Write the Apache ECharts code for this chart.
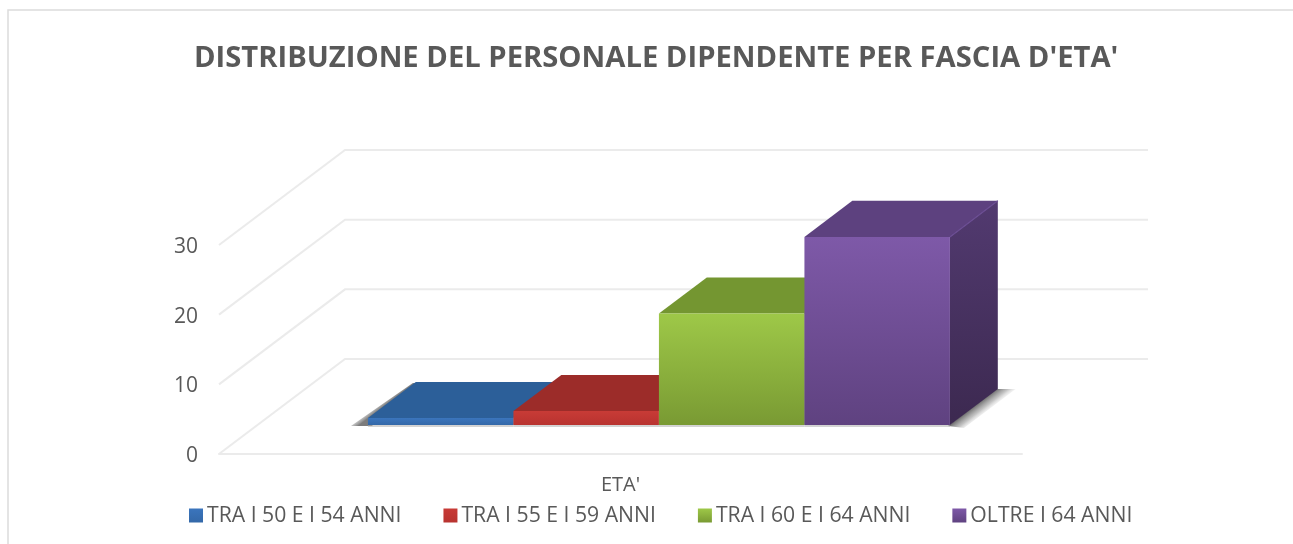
<!DOCTYPE html>
<html><head><meta charset="utf-8">
<style>html,body{margin:0;padding:0;background:#fff}#c{width:1293px;height:544px}</style>
<script src="https://cdn.jsdelivr.net/npm/echarts@6/dist/echarts.min.js"></script>
</head><body><div id="c"></div>
<script>
const categories = ["ETA'"];
const seriesNames = ['TRA I 50 E I 54 ANNI','TRA I 55 E I 59 ANNI','TRA I 60 E I 64 ANNI','OLTRE I 64 ANNI'];
const valsA = [1];
const valsB = [2];
const valsC = [16];
const valsD = [27];
const seriesValues = [valsA, valsB, valsC, valsD];
const yTicks = [0, 10, 20, 30];
const titleText = "DISTRIBUZIONE DEL PERSONALE DIPENDENTE PER FASCIA D'ETA'";

// colours: [front top, front bottom, roof, side top, side bottom, edge highlight]
const palette = [
  ['#3b75bd','#3368a8','#2c5f99','#2a5688','#234a78','#3a6eaa'],
  ['#c83b36','#b83330','#9c2c29','#8c2724','#7a211f','#b03a36'],
  ['#9ec848','#799a33','#749631','#66852c','#577226','#8aa83f'],
  ['#7e59a8','#5f4280','#5d417f','#523a70','#3c2950','#6a4c92']
];
const DX = 126, DY = 95;          // wall depth projection, px
const DEPTH0 = 0.305, DEPTH1 = 0.685, BAR_W = 145.5 / 803;
const vGrad = (a, b) => new echarts.graphic.LinearGradient(0, 0, 0, 1, [{offset:0,color:a},{offset:1,color:b}]);
// gradient running across a floor shadow, in pixels
const shadowGrad = (x, y, ux, uy, len, alpha) => new echarts.graphic.LinearGradient(x, y, x + ux * len, y + uy * len, [
  {offset:0, color:'rgba(80,80,80,' + alpha + ')'},
  {offset:0.45, color:'rgba(130,130,130,' + alpha * 0.6 + ')'},
  {offset:1, color:'rgba(255,255,255,0)'}
], true);

function renderBar(idx) {
  return function (params, api) {
    const c = api.coord([api.value(0), 0]);
    const t = api.coord([api.value(0), api.value(1)]);
    const band = api.size([1, 0])[0];
    const w = band * BAR_W;
    const dx0 = DX * DEPTH0, dy0 = DY * DEPTH0, dx1 = DX * DEPTH1, dy1 = DY * DEPTH1;
    const xL = c[0] - 2 * w + idx * w + dx0, xR = xL + w;
    const yB = c[1] - dy0, yT = t[1] - dy0;
    const bx = dx1 - dx0, by = dy1 - dy0;
    const pal = palette[idx];
    const kids = [];
    const poly = (points, fill) => kids.push({type:'polygon', shape:{points}, style:{fill}});
    if (idx === 0) {
      poly([[xL-17,yB+1],[xL+4,yB+1],[xL+bx+2,yT-by+1],[xL+bx-3,yT-by+1]],
        shadowGrad(xL+bx/2, yT-by/2, -0.61, -0.79, 10, 0.75));
    }
    if (idx === seriesNames.length - 1) {
      poly([[xR-2,yB+1],[xR+bx-2,yB-by],[xR+bx+18,yB-by],[xR+14,yB+3]],
        shadowGrad(xR+bx/2, yB-by/2, 0.61, 0.79, 15, 0.8));
    }
    kids.push({type:'rect', shape:{x:xL,y:yB,width:w,height:2}, style:{fill:'rgba(175,175,175,0.55)'}});
    poly([[xR,yB],[xR+bx,yB-by],[xR+bx,yT-by],[xR,yT]], vGrad(pal[3],pal[4]));
    poly([[xL,yT],[xL+bx,yT-by],[xR+bx,yT-by],[xR,yT]], pal[2]);
    kids.push({type:'rect', shape:{x:xL,y:yT,width:w,height:yB-yT}, style:{fill:vGrad(pal[0],pal[1])}});
    kids.push({type:'polyline', shape:{points:[[xR,yT],[xR+bx,yT-by]]}, style:{fill:null, stroke:pal[5], lineWidth:1.2}});
    return {type:'group', children:kids};
  };
}

function renderWalls(params, api) {
  const v = api.value(1);
  const p = api.coord([0, v]);
  const size = api.size([1, 0])[0];
  return {type:'polyline', silent:true,
    shape:{points:[[p[0]-size/2, p[1]],[p[0]-size/2+DX, p[1]-DY],[p[0]+size/2+DX, p[1]-DY]]},
    style:{fill:null, stroke:'#ebebeb', lineWidth:2}};
}

const chart = echarts.init(document.getElementById('c'), null, {renderer:'canvas'});
chart.setOption({
  animation:false,
  backgroundColor:'#ffffff',
  graphic:[{type:'polyline', silent:true, z:-10, shape:{points:[[8,544],[8,10],[1293,10]]}, style:{fill:null, stroke:'#dcdcdc', lineWidth:1.5}}],
  title:{text:titleText, left:189, top:39, textStyle:{fontFamily:'Open Sans', fontWeight:'bold', fontSize:29.2, color:'#595959'}},
  legend:{
    left:184, top:500, itemWidth:14, itemHeight:14, itemGap:42, icon:'rect',
    textStyle:{fontFamily:'Open Sans', fontSize:21.2, color:'#595959', padding:[0,0,0,-1]},
    data:seriesNames.map((n,i)=>({name:n, icon:'rect', itemStyle:{color:vGrad(palette[i][0],palette[i][1])}}))
  },
  grid:{left:219, right:271, top:245, bottom:90, containLabel:false},
  xAxis:{type:'category', data:categories, boundaryGap:true,
    axisLine:{show:true, lineStyle:{color:'#ebebeb', width:2}}, axisTick:{show:false},
    axisLabel:{fontFamily:'Open Sans', fontSize:20, color:'#595959', margin:21}},
  yAxis:{type:'value', min:0, max:30, interval:10,
    axisLine:{show:false}, axisTick:{show:false}, splitLine:{show:false},
    axisLabel:{fontFamily:'Open Sans', fontSize:21, color:'#595959', margin:21, verticalAlign:'top', lineHeight:4}},
  series:[
    {type:'custom', name:'pareti', silent:true, clip:false, z:1, renderItem:renderWalls, encode:{x:0,y:1},
     data:yTicks.map(t=>[0,t]), legendHoverLink:false, tooltip:{show:false}},
    ...seriesNames.map((n,i)=>({
      type:'custom', name:n, clip:false, z:2+i, renderItem:renderBar(i), encode:{x:0,y:1},
      itemStyle:{color:palette[i][0]},
      data:seriesValues[i].map((v,k)=>[k,v])
    }))
  ]
});
</script></body></html>
